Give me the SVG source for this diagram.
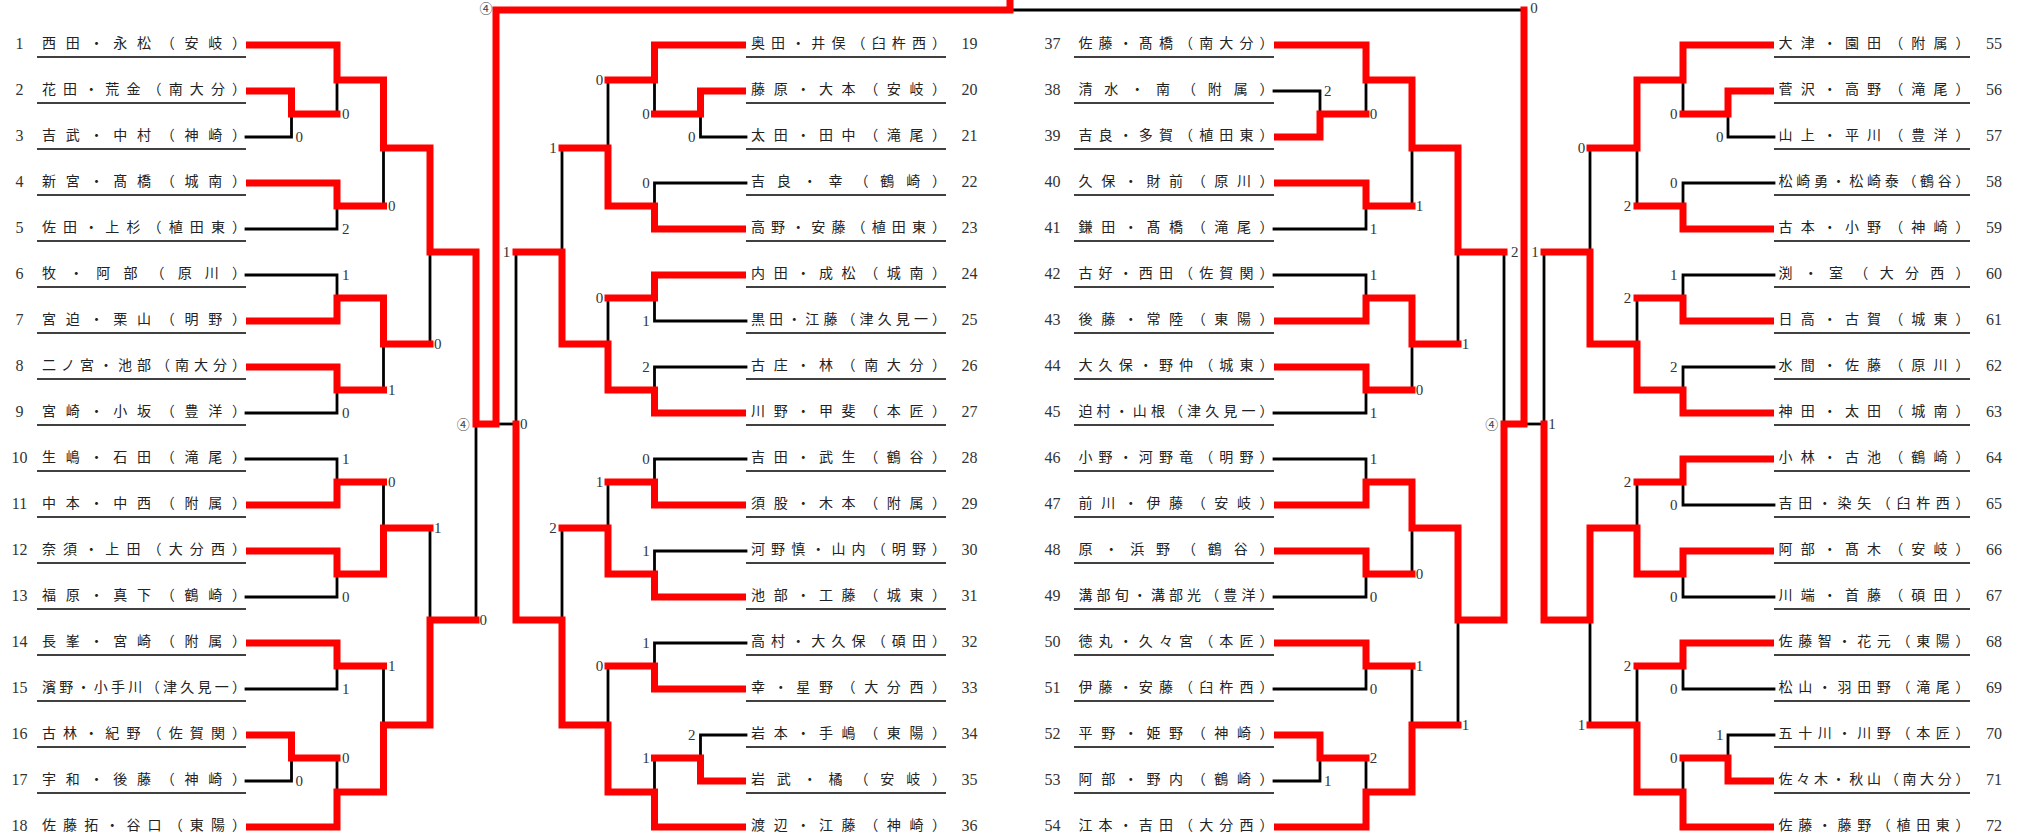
<svg xmlns="http://www.w3.org/2000/svg" width="2026" height="840" viewBox="0 0 2026 840">
<style>
.r{fill:none;stroke:#f00;stroke-width:7;stroke-linecap:square;stroke-linejoin:miter}
.k{fill:none;stroke:#000;stroke-width:2.8;stroke-linecap:square}
.u{stroke:#000;stroke-width:1.4}
.n{font-family:"Noto Sans CJK JP",sans-serif;font-size:14px;fill:#222}
.no{font-family:"Liberation Serif",serif;font-size:16px;fill:#333;text-anchor:middle}
.s{font-family:"Liberation Serif",serif;font-size:15px;fill:#333;text-anchor:middle}
.c{font-family:"Noto Sans CJK JP",sans-serif;font-size:13px;fill:#444;text-anchor:middle}
</style>
<rect width="2026" height="840" fill="#fff"/>
<g id="connectors">
<g id="losers">
<path class="k" d="M337 114V80"/>
<path class="k" d="M246 137H291.5V114"/>
<path class="k" d="M383.5 206V148"/>
<path class="k" d="M246 229H337V206"/>
<path class="k" d="M246 275H337V298"/>
<path class="k" d="M430 344V252"/>
<path class="k" d="M383.5 390V344"/>
<path class="k" d="M246 413H337V390"/>
<path class="k" d="M246 459H337V482"/>
<path class="k" d="M383.5 482V528"/>
<path class="k" d="M430 528V620"/>
<path class="k" d="M246 597H337V574"/>
<path class="k" d="M383.5 666V725"/>
<path class="k" d="M246 689H337V666"/>
<path class="k" d="M337 758V792"/>
<path class="k" d="M246 781H291.5V758"/>
<path class="k" d="M476 620V424"/>
<path class="k" d="M608 80V148"/>
<path class="k" d="M654.5 114V80"/>
<path class="k" d="M746 137H700.5V114"/>
<path class="k" d="M746 183H654.5V206"/>
<path class="k" d="M562 148V252"/>
<path class="k" d="M608 298V344"/>
<path class="k" d="M746 321H654.5V298"/>
<path class="k" d="M746 367H654.5V390"/>
<path class="k" d="M516 252V424"/>
<path class="k" d="M746 459H654.5V482"/>
<path class="k" d="M608 482V528"/>
<path class="k" d="M746 551H654.5V574"/>
<path class="k" d="M562 528V620"/>
<path class="k" d="M746 643H654.5V666"/>
<path class="k" d="M608 666V725"/>
<path class="k" d="M746 735H700.5V758"/>
<path class="k" d="M654.5 758V792"/>
<path class="k" d="M516 424H496"/>
<path class="k" d="M1504 252V424"/>
<path class="k" d="M1274 91H1320V114"/>
<path class="k" d="M1366 114V80"/>
<path class="k" d="M1412 206V148"/>
<path class="k" d="M1274 229H1366V206"/>
<path class="k" d="M1274 275H1366V298"/>
<path class="k" d="M1458 344V252"/>
<path class="k" d="M1412 390V344"/>
<path class="k" d="M1274 413H1366V390"/>
<path class="k" d="M1274 459H1366V482"/>
<path class="k" d="M1524 10H1010"/>
<path class="k" d="M1412 574V528"/>
<path class="k" d="M1274 597H1366V574"/>
<path class="k" d="M1412 666V725"/>
<path class="k" d="M1274 689H1366V666"/>
<path class="k" d="M1366 758V792"/>
<path class="k" d="M1274 781H1320V758"/>
<path class="k" d="M1458 725V620"/>
<path class="k" d="M1590 148V252"/>
<path class="k" d="M1683 114V80"/>
<path class="k" d="M1774 137H1728V114"/>
<path class="k" d="M1774 183H1683V206"/>
<path class="k" d="M1637 206V148"/>
<path class="k" d="M1774 275H1683V298"/>
<path class="k" d="M1637 298V344"/>
<path class="k" d="M1774 367H1683V390"/>
<path class="k" d="M1544 252V424"/>
<path class="k" d="M1637 482V528"/>
<path class="k" d="M1774 505H1683V482"/>
<path class="k" d="M1544 424H1524"/>
<path class="k" d="M1774 597H1683V574"/>
<path class="k" d="M1637 666V725"/>
<path class="k" d="M1774 689H1683V666"/>
<path class="k" d="M1774 735H1728V758"/>
<path class="k" d="M1683 758V792"/>
<path class="k" d="M1590 725V620"/>
</g>
<g id="winners">
<path class="r" d="M249.5 45H337V80H383.5V148H430V252H476V424H496V10H1010V0"/>
<path class="r" d="M249.5 91H291.5V114H337"/>
<path class="r" d="M249.5 183H337V206H383.5"/>
<path class="r" d="M249.5 321H337V298H383.5V344H430"/>
<path class="r" d="M249.5 367H337V390H383.5"/>
<path class="r" d="M249.5 505H337V482H383.5"/>
<path class="r" d="M249.5 551H337V574H383.5V528H430"/>
<path class="r" d="M249.5 643H337V666H383.5"/>
<path class="r" d="M249.5 735H291.5V758H337"/>
<path class="r" d="M249.5 827H337V792H383.5V725H430V620H476"/>
<path class="r" d="M742.5 45H654.5V80H608"/>
<path class="r" d="M742.5 91H700.5V114H654.5"/>
<path class="r" d="M742.5 229H654.5V206H608V148H562"/>
<path class="r" d="M742.5 275H654.5V298H608"/>
<path class="r" d="M742.5 413H654.5V390H608V344H562V252H516"/>
<path class="r" d="M742.5 505H654.5V482H608"/>
<path class="r" d="M742.5 597H654.5V574H608V528H562"/>
<path class="r" d="M742.5 689H654.5V666H608"/>
<path class="r" d="M742.5 781H700.5V758H654.5"/>
<path class="r" d="M742.5 827H654.5V792H608V725H562V620H516V424"/>
<path class="r" d="M1277.5 45H1366V80H1412V148H1458V252H1504"/>
<path class="r" d="M1277.5 137H1320V114H1366"/>
<path class="r" d="M1277.5 183H1366V206H1412"/>
<path class="r" d="M1277.5 321H1366V298H1412V344H1458"/>
<path class="r" d="M1277.5 367H1366V390H1412"/>
<path class="r" d="M1277.5 505H1366V482H1412V528H1458V620H1504V424H1524V10"/>
<path class="r" d="M1277.5 551H1366V574H1412"/>
<path class="r" d="M1277.5 643H1366V666H1412"/>
<path class="r" d="M1277.5 735H1320V758H1366"/>
<path class="r" d="M1277.5 827H1366V792H1412V725H1458"/>
<path class="r" d="M1770.5 45H1683V80H1637V148H1590"/>
<path class="r" d="M1770.5 91H1728V114H1683"/>
<path class="r" d="M1770.5 229H1683V206H1637"/>
<path class="r" d="M1770.5 321H1683V298H1637"/>
<path class="r" d="M1770.5 413H1683V390H1637V344H1590V252H1544"/>
<path class="r" d="M1770.5 459H1683V482H1637"/>
<path class="r" d="M1770.5 551H1683V574H1637V528H1590V620H1544V424"/>
<path class="r" d="M1770.5 643H1683V666H1637"/>
<path class="r" d="M1770.5 781H1728V758H1683"/>
<path class="r" d="M1770.5 827H1683V792H1637V725H1590"/>
</g>
<g id="scores">
<text class="s" x="345.7" y="119">0</text>
<text class="s" x="299.3" y="142">0</text>
<text class="s" x="391.7" y="211">0</text>
<text class="s" x="345.7" y="234">2</text>
<text class="s" x="345.7" y="280">1</text>
<text class="s" x="437.7" y="349">0</text>
<text class="s" x="391.7" y="395">1</text>
<text class="s" x="345.7" y="418">0</text>
<text class="s" x="345.7" y="464">1</text>
<text class="s" x="391.7" y="487">0</text>
<text class="s" x="437.7" y="533">1</text>
<text class="s" x="345.7" y="602">0</text>
<text class="s" x="391.7" y="671">1</text>
<text class="s" x="345.7" y="694">1</text>
<text class="s" x="345.7" y="763">0</text>
<text class="s" x="299.3" y="786">0</text>
<text class="s" x="483.3" y="625">0</text>
<text class="c" x="463.3" y="429">④</text>
<text class="c" x="486" y="13">④</text>
<text class="s" x="691.7" y="142">0</text>
<text class="s" x="646" y="119">0</text>
<text class="s" x="599.5" y="85">0</text>
<text class="s" x="646" y="188">0</text>
<text class="s" x="553" y="153">1</text>
<text class="s" x="646" y="326">1</text>
<text class="s" x="599.5" y="303">0</text>
<text class="s" x="646" y="372">2</text>
<text class="s" x="506.5" y="257">1</text>
<text class="s" x="523.7" y="429">0</text>
<text class="s" x="646" y="464">0</text>
<text class="s" x="599.5" y="487">1</text>
<text class="s" x="553" y="533">2</text>
<text class="s" x="646" y="556">1</text>
<text class="s" x="646" y="648">1</text>
<text class="s" x="599.5" y="671">0</text>
<text class="s" x="691.7" y="740">2</text>
<text class="s" x="646" y="763">1</text>
<text class="s" x="1327.8" y="96">2</text>
<text class="s" x="1373.6" y="119">0</text>
<text class="s" x="1373.6" y="234">1</text>
<text class="s" x="1419.4" y="211">1</text>
<text class="s" x="1373.6" y="280">1</text>
<text class="s" x="1373.6" y="418">1</text>
<text class="s" x="1419.4" y="395">0</text>
<text class="s" x="1465.6" y="349">1</text>
<text class="s" x="1514.8" y="257">2</text>
<text class="c" x="1491.7" y="429">④</text>
<text class="s" x="1534" y="13">0</text>
<text class="s" x="1373.6" y="464">1</text>
<text class="s" x="1373.6" y="602">0</text>
<text class="s" x="1419.4" y="579">0</text>
<text class="s" x="1373.6" y="694">0</text>
<text class="s" x="1419.4" y="671">1</text>
<text class="s" x="1327.8" y="786">1</text>
<text class="s" x="1373.6" y="763">2</text>
<text class="s" x="1465.6" y="730">1</text>
<text class="s" x="1719.7" y="142">0</text>
<text class="s" x="1673.8" y="119">0</text>
<text class="s" x="1673.8" y="188">0</text>
<text class="s" x="1627.5" y="211">2</text>
<text class="s" x="1581.5" y="153">0</text>
<text class="s" x="1673.8" y="280">1</text>
<text class="s" x="1627.5" y="303">2</text>
<text class="s" x="1673.8" y="372">2</text>
<text class="s" x="1535" y="257">1</text>
<text class="s" x="1552" y="429">1</text>
<text class="s" x="1673.8" y="510">0</text>
<text class="s" x="1627.5" y="487">2</text>
<text class="s" x="1673.8" y="602">0</text>
<text class="s" x="1673.8" y="694">0</text>
<text class="s" x="1627.5" y="671">2</text>
<text class="s" x="1581.5" y="730">1</text>
<text class="s" x="1719.7" y="740">1</text>
<text class="s" x="1673.8" y="763">0</text>
</g>
</g>
<g id="p1"><text class="no" x="19.5" y="48.5">1</text><text class="n" x="42" y="47.5" textLength="204" lengthAdjust="spacing">西田・永松（安岐）</text><line class="u" x1="37" y1="57" x2="246" y2="57"/></g>
<g id="p2"><text class="no" x="19.5" y="94.5">2</text><text class="n" x="42" y="93.5" textLength="204" lengthAdjust="spacing">花田・荒金（南大分）</text><line class="u" x1="37" y1="103" x2="246" y2="103"/></g>
<g id="p3"><text class="no" x="19.5" y="140.5">3</text><text class="n" x="42" y="139.5" textLength="204" lengthAdjust="spacing">吉武・中村（神崎）</text><line class="u" x1="37" y1="149" x2="246" y2="149"/></g>
<g id="p4"><text class="no" x="19.5" y="186.5">4</text><text class="n" x="42" y="185.5" textLength="204" lengthAdjust="spacing">新宮・髙橋（城南）</text><line class="u" x1="37" y1="195" x2="246" y2="195"/></g>
<g id="p5"><text class="no" x="19.5" y="232.5">5</text><text class="n" x="42" y="231.5" textLength="204" lengthAdjust="spacing">佐田・上杉（植田東）</text><line class="u" x1="37" y1="241" x2="246" y2="241"/></g>
<g id="p6"><text class="no" x="19.5" y="278.5">6</text><text class="n" x="42" y="277.5" textLength="204" lengthAdjust="spacing">牧・阿部（原川）</text><line class="u" x1="37" y1="287" x2="246" y2="287"/></g>
<g id="p7"><text class="no" x="19.5" y="324.5">7</text><text class="n" x="42" y="323.5" textLength="204" lengthAdjust="spacing">宮迫・栗山（明野）</text><line class="u" x1="37" y1="333" x2="246" y2="333"/></g>
<g id="p8"><text class="no" x="19.5" y="370.5">8</text><text class="n" x="42" y="369.5" textLength="204" lengthAdjust="spacing">二ノ宮・池部（南大分）</text><line class="u" x1="37" y1="379" x2="246" y2="379"/></g>
<g id="p9"><text class="no" x="19.5" y="416.5">9</text><text class="n" x="42" y="415.5" textLength="204" lengthAdjust="spacing">宮崎・小坂（豊洋）</text><line class="u" x1="37" y1="425" x2="246" y2="425"/></g>
<g id="p10"><text class="no" x="19.5" y="462.5">10</text><text class="n" x="42" y="461.5" textLength="204" lengthAdjust="spacing">生嶋・石田（滝尾）</text><line class="u" x1="37" y1="471" x2="246" y2="471"/></g>
<g id="p11"><text class="no" x="19.5" y="508.5">11</text><text class="n" x="42" y="507.5" textLength="204" lengthAdjust="spacing">中本・中西（附属）</text><line class="u" x1="37" y1="517" x2="246" y2="517"/></g>
<g id="p12"><text class="no" x="19.5" y="554.5">12</text><text class="n" x="42" y="553.5" textLength="204" lengthAdjust="spacing">奈須・上田（大分西）</text><line class="u" x1="37" y1="563" x2="246" y2="563"/></g>
<g id="p13"><text class="no" x="19.5" y="600.5">13</text><text class="n" x="42" y="599.5" textLength="204" lengthAdjust="spacing">福原・真下（鶴崎）</text><line class="u" x1="37" y1="609" x2="246" y2="609"/></g>
<g id="p14"><text class="no" x="19.5" y="646.5">14</text><text class="n" x="42" y="645.5" textLength="204" lengthAdjust="spacing">長峯・宮崎（附属）</text><line class="u" x1="37" y1="655" x2="246" y2="655"/></g>
<g id="p15"><text class="no" x="19.5" y="692.5">15</text><text class="n" x="42" y="691.5" textLength="204" lengthAdjust="spacing">濱野・小手川（津久見一）</text><line class="u" x1="37" y1="701" x2="246" y2="701"/></g>
<g id="p16"><text class="no" x="19.5" y="738.5">16</text><text class="n" x="42" y="737.5" textLength="204" lengthAdjust="spacing">古林・紀野（佐賀関）</text><line class="u" x1="37" y1="747" x2="246" y2="747"/></g>
<g id="p17"><text class="no" x="19.5" y="784.5">17</text><text class="n" x="42" y="783.5" textLength="204" lengthAdjust="spacing">宇和・後藤（神崎）</text><line class="u" x1="37" y1="793" x2="246" y2="793"/></g>
<g id="p18"><text class="no" x="19.5" y="830.5">18</text><text class="n" x="42" y="829.5" textLength="204" lengthAdjust="spacing">佐藤拓・谷口（東陽）</text></g>
<g id="p19"><text class="no" x="969.5" y="48.5">19</text><text class="n" x="751" y="47.5" textLength="195" lengthAdjust="spacing">奥田・井俣（臼杵西）</text><line class="u" x1="746" y1="57" x2="946" y2="57"/></g>
<g id="p20"><text class="no" x="969.5" y="94.5">20</text><text class="n" x="751" y="93.5" textLength="195" lengthAdjust="spacing">藤原・大本（安岐）</text><line class="u" x1="746" y1="103" x2="946" y2="103"/></g>
<g id="p21"><text class="no" x="969.5" y="140.5">21</text><text class="n" x="751" y="139.5" textLength="195" lengthAdjust="spacing">太田・田中（滝尾）</text><line class="u" x1="746" y1="149" x2="946" y2="149"/></g>
<g id="p22"><text class="no" x="969.5" y="186.5">22</text><text class="n" x="751" y="185.5" textLength="195" lengthAdjust="spacing">吉良・幸（鶴崎）</text><line class="u" x1="746" y1="195" x2="946" y2="195"/></g>
<g id="p23"><text class="no" x="969.5" y="232.5">23</text><text class="n" x="751" y="231.5" textLength="195" lengthAdjust="spacing">高野・安藤（植田東）</text><line class="u" x1="746" y1="241" x2="946" y2="241"/></g>
<g id="p24"><text class="no" x="969.5" y="278.5">24</text><text class="n" x="751" y="277.5" textLength="195" lengthAdjust="spacing">内田・成松（城南）</text><line class="u" x1="746" y1="287" x2="946" y2="287"/></g>
<g id="p25"><text class="no" x="969.5" y="324.5">25</text><text class="n" x="751" y="323.5" textLength="195" lengthAdjust="spacing">黒田・江藤（津久見一）</text><line class="u" x1="746" y1="333" x2="946" y2="333"/></g>
<g id="p26"><text class="no" x="969.5" y="370.5">26</text><text class="n" x="751" y="369.5" textLength="195" lengthAdjust="spacing">古庄・林（南大分）</text><line class="u" x1="746" y1="379" x2="946" y2="379"/></g>
<g id="p27"><text class="no" x="969.5" y="416.5">27</text><text class="n" x="751" y="415.5" textLength="195" lengthAdjust="spacing">川野・甲斐（本匠）</text><line class="u" x1="746" y1="425" x2="946" y2="425"/></g>
<g id="p28"><text class="no" x="969.5" y="462.5">28</text><text class="n" x="751" y="461.5" textLength="195" lengthAdjust="spacing">吉田・武生（鶴谷）</text><line class="u" x1="746" y1="471" x2="946" y2="471"/></g>
<g id="p29"><text class="no" x="969.5" y="508.5">29</text><text class="n" x="751" y="507.5" textLength="195" lengthAdjust="spacing">須股・木本（附属）</text><line class="u" x1="746" y1="517" x2="946" y2="517"/></g>
<g id="p30"><text class="no" x="969.5" y="554.5">30</text><text class="n" x="751" y="553.5" textLength="195" lengthAdjust="spacing">河野慎・山内（明野）</text><line class="u" x1="746" y1="563" x2="946" y2="563"/></g>
<g id="p31"><text class="no" x="969.5" y="600.5">31</text><text class="n" x="751" y="599.5" textLength="195" lengthAdjust="spacing">池部・工藤（城東）</text><line class="u" x1="746" y1="609" x2="946" y2="609"/></g>
<g id="p32"><text class="no" x="969.5" y="646.5">32</text><text class="n" x="751" y="645.5" textLength="195" lengthAdjust="spacing">高村・大久保（碩田）</text><line class="u" x1="746" y1="655" x2="946" y2="655"/></g>
<g id="p33"><text class="no" x="969.5" y="692.5">33</text><text class="n" x="751" y="691.5" textLength="195" lengthAdjust="spacing">幸・星野（大分西）</text><line class="u" x1="746" y1="701" x2="946" y2="701"/></g>
<g id="p34"><text class="no" x="969.5" y="738.5">34</text><text class="n" x="751" y="737.5" textLength="195" lengthAdjust="spacing">岩本・手嶋（東陽）</text><line class="u" x1="746" y1="747" x2="946" y2="747"/></g>
<g id="p35"><text class="no" x="969.5" y="784.5">35</text><text class="n" x="751" y="783.5" textLength="195" lengthAdjust="spacing">岩武・橘（安岐）</text><line class="u" x1="746" y1="793" x2="946" y2="793"/></g>
<g id="p36"><text class="no" x="969.5" y="830.5">36</text><text class="n" x="751" y="829.5" textLength="195" lengthAdjust="spacing">渡辺・江藤（神崎）</text></g>
<g id="p37"><text class="no" x="1052.5" y="48.5">37</text><text class="n" x="1078.5" y="47.5" textLength="195" lengthAdjust="spacing">佐藤・髙橋（南大分）</text><line class="u" x1="1074" y1="57" x2="1274" y2="57"/></g>
<g id="p38"><text class="no" x="1052.5" y="94.5">38</text><text class="n" x="1078.5" y="93.5" textLength="195" lengthAdjust="spacing">清水・南（附属）</text><line class="u" x1="1074" y1="103" x2="1274" y2="103"/></g>
<g id="p39"><text class="no" x="1052.5" y="140.5">39</text><text class="n" x="1078.5" y="139.5" textLength="195" lengthAdjust="spacing">吉良・多賀（植田東）</text><line class="u" x1="1074" y1="149" x2="1274" y2="149"/></g>
<g id="p40"><text class="no" x="1052.5" y="186.5">40</text><text class="n" x="1078.5" y="185.5" textLength="195" lengthAdjust="spacing">久保・財前（原川）</text><line class="u" x1="1074" y1="195" x2="1274" y2="195"/></g>
<g id="p41"><text class="no" x="1052.5" y="232.5">41</text><text class="n" x="1078.5" y="231.5" textLength="195" lengthAdjust="spacing">鎌田・髙橋（滝尾）</text><line class="u" x1="1074" y1="241" x2="1274" y2="241"/></g>
<g id="p42"><text class="no" x="1052.5" y="278.5">42</text><text class="n" x="1078.5" y="277.5" textLength="195" lengthAdjust="spacing">古好・西田（佐賀関）</text><line class="u" x1="1074" y1="287" x2="1274" y2="287"/></g>
<g id="p43"><text class="no" x="1052.5" y="324.5">43</text><text class="n" x="1078.5" y="323.5" textLength="195" lengthAdjust="spacing">後藤・常陸（東陽）</text><line class="u" x1="1074" y1="333" x2="1274" y2="333"/></g>
<g id="p44"><text class="no" x="1052.5" y="370.5">44</text><text class="n" x="1078.5" y="369.5" textLength="195" lengthAdjust="spacing">大久保・野仲（城東）</text><line class="u" x1="1074" y1="379" x2="1274" y2="379"/></g>
<g id="p45"><text class="no" x="1052.5" y="416.5">45</text><text class="n" x="1078.5" y="415.5" textLength="195" lengthAdjust="spacing">迫村・山根（津久見一）</text><line class="u" x1="1074" y1="425" x2="1274" y2="425"/></g>
<g id="p46"><text class="no" x="1052.5" y="462.5">46</text><text class="n" x="1078.5" y="461.5" textLength="195" lengthAdjust="spacing">小野・河野竜（明野）</text><line class="u" x1="1074" y1="471" x2="1274" y2="471"/></g>
<g id="p47"><text class="no" x="1052.5" y="508.5">47</text><text class="n" x="1078.5" y="507.5" textLength="195" lengthAdjust="spacing">前川・伊藤（安岐）</text><line class="u" x1="1074" y1="517" x2="1274" y2="517"/></g>
<g id="p48"><text class="no" x="1052.5" y="554.5">48</text><text class="n" x="1078.5" y="553.5" textLength="195" lengthAdjust="spacing">原・浜野（鶴谷）</text><line class="u" x1="1074" y1="563" x2="1274" y2="563"/></g>
<g id="p49"><text class="no" x="1052.5" y="600.5">49</text><text class="n" x="1078.5" y="599.5" textLength="195" lengthAdjust="spacing">溝部旬・溝部光（豊洋）</text><line class="u" x1="1074" y1="609" x2="1274" y2="609"/></g>
<g id="p50"><text class="no" x="1052.5" y="646.5">50</text><text class="n" x="1078.5" y="645.5" textLength="195" lengthAdjust="spacing">徳丸・久々宮（本匠）</text><line class="u" x1="1074" y1="655" x2="1274" y2="655"/></g>
<g id="p51"><text class="no" x="1052.5" y="692.5">51</text><text class="n" x="1078.5" y="691.5" textLength="195" lengthAdjust="spacing">伊藤・安藤（臼杵西）</text><line class="u" x1="1074" y1="701" x2="1274" y2="701"/></g>
<g id="p52"><text class="no" x="1052.5" y="738.5">52</text><text class="n" x="1078.5" y="737.5" textLength="195" lengthAdjust="spacing">平野・姫野（神崎）</text><line class="u" x1="1074" y1="747" x2="1274" y2="747"/></g>
<g id="p53"><text class="no" x="1052.5" y="784.5">53</text><text class="n" x="1078.5" y="783.5" textLength="195" lengthAdjust="spacing">阿部・野内（鶴崎）</text><line class="u" x1="1074" y1="793" x2="1274" y2="793"/></g>
<g id="p54"><text class="no" x="1052.5" y="830.5">54</text><text class="n" x="1078.5" y="829.5" textLength="195" lengthAdjust="spacing">江本・吉田（大分西）</text></g>
<g id="p55"><text class="no" x="1994" y="48.5">55</text><text class="n" x="1778.5" y="47.5" textLength="191" lengthAdjust="spacing">大津・園田（附属）</text><line class="u" x1="1774" y1="57" x2="1970" y2="57"/></g>
<g id="p56"><text class="no" x="1994" y="94.5">56</text><text class="n" x="1778.5" y="93.5" textLength="191" lengthAdjust="spacing">菅沢・高野（滝尾）</text><line class="u" x1="1774" y1="103" x2="1970" y2="103"/></g>
<g id="p57"><text class="no" x="1994" y="140.5">57</text><text class="n" x="1778.5" y="139.5" textLength="191" lengthAdjust="spacing">山上・平川（豊洋）</text><line class="u" x1="1774" y1="149" x2="1970" y2="149"/></g>
<g id="p58"><text class="no" x="1994" y="186.5">58</text><text class="n" x="1778.5" y="185.5" textLength="191" lengthAdjust="spacing">松崎勇・松崎泰（鶴谷）</text><line class="u" x1="1774" y1="195" x2="1970" y2="195"/></g>
<g id="p59"><text class="no" x="1994" y="232.5">59</text><text class="n" x="1778.5" y="231.5" textLength="191" lengthAdjust="spacing">古本・小野（神崎）</text><line class="u" x1="1774" y1="241" x2="1970" y2="241"/></g>
<g id="p60"><text class="no" x="1994" y="278.5">60</text><text class="n" x="1778.5" y="277.5" textLength="191" lengthAdjust="spacing">渕・室（大分西）</text><line class="u" x1="1774" y1="287" x2="1970" y2="287"/></g>
<g id="p61"><text class="no" x="1994" y="324.5">61</text><text class="n" x="1778.5" y="323.5" textLength="191" lengthAdjust="spacing">日高・古賀（城東）</text><line class="u" x1="1774" y1="333" x2="1970" y2="333"/></g>
<g id="p62"><text class="no" x="1994" y="370.5">62</text><text class="n" x="1778.5" y="369.5" textLength="191" lengthAdjust="spacing">水間・佐藤（原川）</text><line class="u" x1="1774" y1="379" x2="1970" y2="379"/></g>
<g id="p63"><text class="no" x="1994" y="416.5">63</text><text class="n" x="1778.5" y="415.5" textLength="191" lengthAdjust="spacing">神田・太田（城南）</text><line class="u" x1="1774" y1="425" x2="1970" y2="425"/></g>
<g id="p64"><text class="no" x="1994" y="462.5">64</text><text class="n" x="1778.5" y="461.5" textLength="191" lengthAdjust="spacing">小林・古池（鶴崎）</text><line class="u" x1="1774" y1="471" x2="1970" y2="471"/></g>
<g id="p65"><text class="no" x="1994" y="508.5">65</text><text class="n" x="1778.5" y="507.5" textLength="191" lengthAdjust="spacing">吉田・染矢（臼杵西）</text><line class="u" x1="1774" y1="517" x2="1970" y2="517"/></g>
<g id="p66"><text class="no" x="1994" y="554.5">66</text><text class="n" x="1778.5" y="553.5" textLength="191" lengthAdjust="spacing">阿部・髙木（安岐）</text><line class="u" x1="1774" y1="563" x2="1970" y2="563"/></g>
<g id="p67"><text class="no" x="1994" y="600.5">67</text><text class="n" x="1778.5" y="599.5" textLength="191" lengthAdjust="spacing">川端・首藤（碩田）</text><line class="u" x1="1774" y1="609" x2="1970" y2="609"/></g>
<g id="p68"><text class="no" x="1994" y="646.5">68</text><text class="n" x="1778.5" y="645.5" textLength="191" lengthAdjust="spacing">佐藤智・花元（東陽）</text><line class="u" x1="1774" y1="655" x2="1970" y2="655"/></g>
<g id="p69"><text class="no" x="1994" y="692.5">69</text><text class="n" x="1778.5" y="691.5" textLength="191" lengthAdjust="spacing">松山・羽田野（滝尾）</text><line class="u" x1="1774" y1="701" x2="1970" y2="701"/></g>
<g id="p70"><text class="no" x="1994" y="738.5">70</text><text class="n" x="1778.5" y="737.5" textLength="191" lengthAdjust="spacing">五十川・川野（本匠）</text><line class="u" x1="1774" y1="747" x2="1970" y2="747"/></g>
<g id="p71"><text class="no" x="1994" y="784.5">71</text><text class="n" x="1778.5" y="783.5" textLength="191" lengthAdjust="spacing">佐々木・秋山（南大分）</text><line class="u" x1="1774" y1="793" x2="1970" y2="793"/></g>
<g id="p72"><text class="no" x="1994" y="830.5">72</text><text class="n" x="1778.5" y="829.5" textLength="191" lengthAdjust="spacing">佐藤・藤野（植田東）</text></g>
</svg>
